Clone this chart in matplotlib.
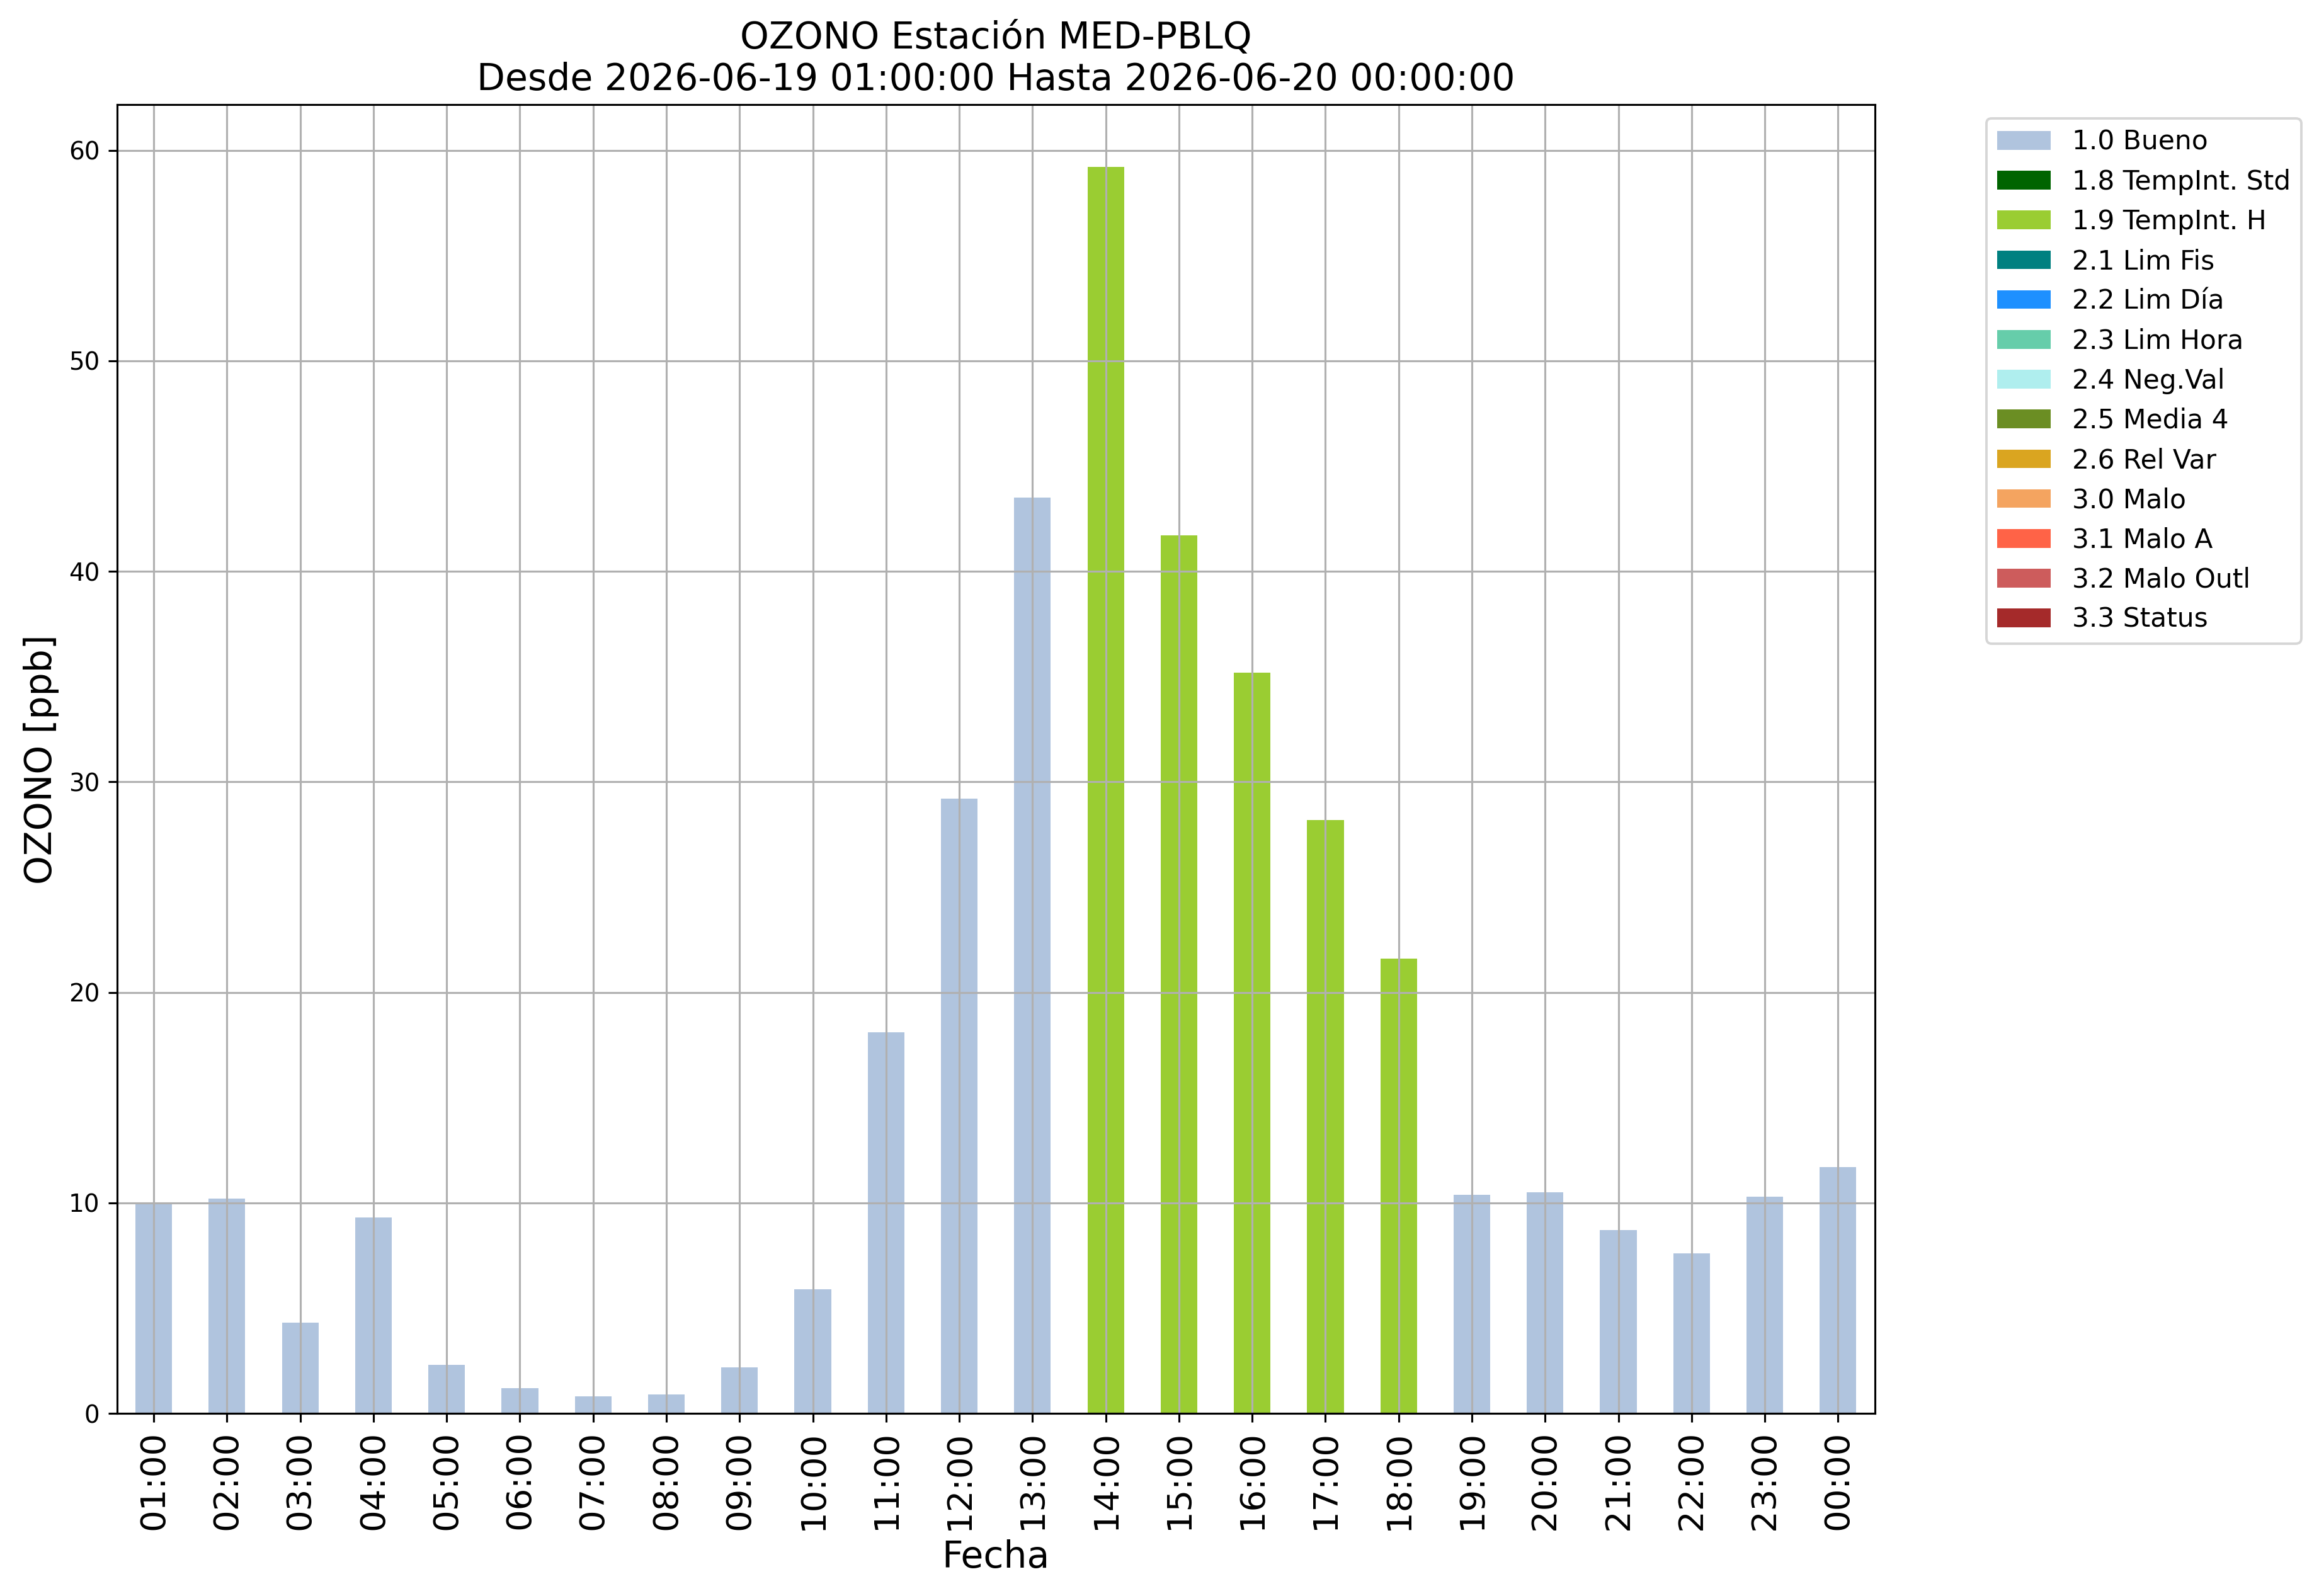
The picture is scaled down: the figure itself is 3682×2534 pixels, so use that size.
import pandas as pd
import numpy as np
import matplotlib
matplotlib.use("Agg")
import matplotlib.pyplot as plt

# hourly ozone values and their quality flag
horas = ["01:00", "02:00", "03:00", "04:00", "05:00", "06:00", "07:00", "08:00",
         "09:00", "10:00", "11:00", "12:00", "13:00", "14:00", "15:00", "16:00",
         "17:00", "18:00", "19:00", "20:00", "21:00", "22:00", "23:00", "00:00"]
ozono = [10.0, 10.2, 4.3, 9.3, 2.3, 1.2, 0.8, 0.9, 2.2, 5.9, 18.1, 29.2,
         43.5, 59.2, 41.7, 35.2, 28.2, 21.6, 10.4, 10.5, 8.7, 7.6, 10.3, 11.7]
bandera = ["1.0 Bueno"] * 13 + ["1.9 TempInt. H"] * 5 + ["1.0 Bueno"] * 6

categorias = ["1.0 Bueno", "1.8 TempInt. Std", "1.9 TempInt. H", "2.1 Lim Fis",
              "2.2 Lim Día", "2.3 Lim Hora", "2.4 Neg.Val", "2.5 Media 4",
              "2.6 Rel Var", "3.0 Malo", "3.1 Malo A", "3.2 Malo Outl", "3.3 Status"]
colores = ["lightsteelblue", "darkgreen", "yellowgreen", "teal", "dodgerblue",
           "mediumaquamarine", "paleturquoise", "olivedrab", "goldenrod",
           "sandybrown", "tomato", "indianred", "brown"]

df = pd.DataFrame({"hora": horas, "valor": ozono, "flag": bandera})
tabla = pd.DataFrame(index=horas)
for cat in categorias:
    tabla[cat] = np.where(df["flag"] == cat, df["valor"], np.nan)

dpi = 280
fig, ax = plt.subplots(figsize=(3682 / dpi, 2534 / dpi))
fig.subplots_adjust(left=0.0505, right=0.8084, top=0.9343, bottom=0.1144)

tabla.plot.bar(stacked=True, width=0.5, color=colores, ax=ax, grid=True)
ax.set_xlim(-0.5, 23.5)
ax.set_xticklabels(horas, rotation=90, fontsize=14)
ax.tick_params(axis="y", labelsize=10)
ax.set_xlabel("Fecha", fontsize=15)
ax.set_ylabel("OZONO [ppb]", fontsize=15)
ax.set_title("OZONO Estación MED-PBLQ\nDesde 2026-06-19 01:00:00 Hasta 2026-06-20 00:00:00",
             fontsize=15)
ax.legend(bbox_to_anchor=(1.056, 1), loc="upper left", fontsize=10.9)

fig.savefig("out.png", dpi=dpi)
